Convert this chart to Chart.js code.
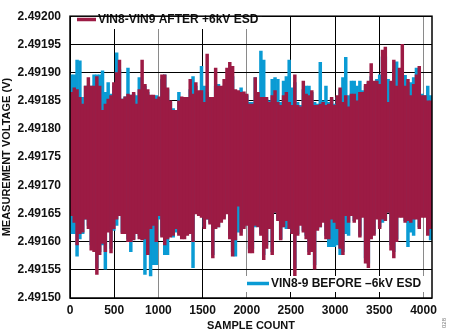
<!DOCTYPE html>
<html>
<head>
<meta charset="utf-8">
<title>Measurement voltage before and after ESD</title>
<script src="https://cdn.jsdelivr.net/npm/chart.js@4.4.1/dist/chart.umd.min.js"></script>
<style>
  html, body { margin: 0; padding: 0; background: #fff; }
</style>
</head>
<body>
<canvas id="noiseChart" width="450" height="336"></canvas>
<script>
// each drawn column is the min..max of 32 consecutive samples
const BUCKET = 32;

const afterHigh = [
  2.491865, 2.491873, 2.491870, 2.491856, 2.491844, 2.491876, 2.491891, 2.491876, 2.491876, 2.491893,
  2.491876, 2.491833, 2.491844, 2.491853, 2.491859, 2.491882, 2.491900, 2.491922, 2.491853, 2.491857,
  2.491862, 2.491860, 2.491865, 2.491844, 2.491870, 2.491922, 2.491879, 2.491870, 2.491860, 2.491860,
  2.491853, 2.491857, 2.491896, 2.491896, 2.491873, 2.491850, 2.491833, 2.491833, 2.491850, 2.491857,
  2.491856, 2.491856, 2.491888, 2.491862, 2.491882, 2.491868, 2.491868, 2.491847, 2.491933, 2.491856,
  2.491856, 2.491908, 2.491876, 2.491876, 2.491888, 2.491908, 2.491918, 2.491911, 2.491870, 2.491868,
  2.491865, 2.491866, 2.491862, 2.491844,
  2.491844, 2.491891, 2.491865, 2.491856, 2.491856, 2.491856, 2.491847, 2.491859, 2.491868, 2.491847,
  2.491842, 2.491859, 2.491865, 2.491847, 2.491842, 2.491896, 2.491842, 2.491839, 2.491885, 2.491862,
  2.491859, 2.491868, 2.491842, 2.491842, 2.491844, 2.491847, 2.491842, 2.491844, 2.491856, 2.491842,
  2.491859, 2.491873, 2.491847, 2.491859, 2.491839, 2.491862, 2.491862, 2.491850, 2.491865, 2.491865,
  2.491879, 2.491885, 2.491916, 2.491885, 2.491885, 2.491879, 2.491940, 2.491945, 2.491847, 2.491885,
  2.491922, 2.491876, 2.491908, 2.491950, 2.491876, 2.491888, 2.491859, 2.491879, 2.491896, 2.491911,
  2.491859, 2.491859, 2.491850, 2.491850
];
const afterLow = [
  2.491646, 2.491634, 2.491594, 2.491614, 2.491617, 2.491640, 2.491623, 2.491585, 2.491582, 2.491542,
  2.491577, 2.491597, 2.491582, 2.491617, 2.491580, 2.491623, 2.491640, 2.491646, 2.491614, 2.491614,
  2.491600, 2.491600, 2.491603, 2.491614, 2.491605, 2.491603, 2.491605, 2.491577, 2.491623, 2.491629,
  2.491600, 2.491646, 2.491608, 2.491594, 2.491605, 2.491608, 2.491611, 2.491623, 2.491611, 2.491605,
  2.491605, 2.491611, 2.491614, 2.491600, 2.491649, 2.491646, 2.491643, 2.491623, 2.491640, 2.491631,
  2.491571, 2.491623, 2.491626, 2.491634, 2.491640, 2.491649, 2.491605, 2.491574, 2.491603, 2.491663,
  2.491611, 2.491623, 2.491629, 2.491580,
  2.491580, 2.491629, 2.491626, 2.491611, 2.491568, 2.491588, 2.491623, 2.491577, 2.491652, 2.491637,
  2.491603, 2.491626, 2.491637, 2.491623, 2.491614, 2.491539, 2.491611, 2.491629, 2.491617, 2.491605,
  2.491577, 2.491582, 2.491551, 2.491620, 2.491626, 2.491634, 2.491605, 2.491605, 2.491640, 2.491634,
  2.491623, 2.491588, 2.491577, 2.491646, 2.491634, 2.491646, 2.491634, 2.491640, 2.491608, 2.491643,
  2.491562, 2.491554, 2.491605, 2.491611, 2.491640, 2.491623, 2.491640, 2.491637, 2.491652, 2.491585,
  2.491571, 2.491600, 2.491643, 2.491643, 2.491634, 2.491637, 2.491634, 2.491640, 2.491640, 2.491623,
  2.491643, 2.491643, 2.491611, 2.491623
];
const beforeHigh = [
  2.491896, 2.491896, 2.491922, 2.491921, 2.491856, 2.491876, 2.491876, 2.491876, 2.491896, 2.491896,
  2.491896, 2.491903, 2.491865, 2.491882, 2.491862, 2.491876, 2.491935, 2.491905, 2.491853, 2.491857,
  2.491908, 2.491860, 2.491862, 2.491859, 2.491891, 2.491876, 2.491876, 2.491865, 2.491859, 2.491859,
  2.491859, 2.491847, 2.491888, 2.491896, 2.491870, 2.491847, 2.491836, 2.491833, 2.491865, 2.491853,
  2.491847, 2.491850, 2.491870, 2.491893, 2.491876, 2.491865, 2.491911, 2.491876, 2.491865, 2.491853,
  2.491853, 2.491876, 2.491879, 2.491870, 2.491876, 2.491882, 2.491905, 2.491893, 2.491865, 2.491865,
  2.491873, 2.491862, 2.491859, 2.491847,
  2.491847, 2.491891, 2.491862, 2.491938, 2.491922, 2.491853, 2.491850, 2.491888, 2.491891, 2.491888,
  2.491847, 2.491885, 2.491893, 2.491922, 2.491873, 2.491882, 2.491847, 2.491842, 2.491870, 2.491876,
  2.491876, 2.491865, 2.491847, 2.491844, 2.491918, 2.491850, 2.491876, 2.491847, 2.491853, 2.491844,
  2.491856, 2.491870, 2.491891, 2.491927, 2.491859, 2.491885, 2.491885, 2.491876, 2.491885, 2.491868,
  2.491876, 2.491882, 2.491893, 2.491882, 2.491888, 2.491896, 2.491928, 2.491928, 2.491888, 2.491882,
  2.491905, 2.491919, 2.491888, 2.491895, 2.491895, 2.491882, 2.491882, 2.491891, 2.491908, 2.491905,
  2.491862, 2.491859, 2.491876, 2.491859
];
const beforeLow = [
  2.491614, 2.491614, 2.491574, 2.491605, 2.491614, 2.491640, 2.491629, 2.491594, 2.491588, 2.491554,
  2.491582, 2.491594, 2.491551, 2.491626, 2.491588, 2.491620, 2.491629, 2.491646, 2.491617, 2.491614,
  2.491605, 2.491582, 2.491605, 2.491617, 2.491611, 2.491605, 2.491542, 2.491582, 2.491539, 2.491559,
  2.491559, 2.491640, 2.491611, 2.491577, 2.491577, 2.491611, 2.491608, 2.491617, 2.491614, 2.491611,
  2.491611, 2.491614, 2.491617, 2.491554, 2.491654, 2.491649, 2.491646, 2.491626, 2.491640, 2.491634,
  2.491577, 2.491626, 2.491626, 2.491637, 2.491643, 2.491652, 2.491611, 2.491582, 2.491574, 2.491617,
  2.491617, 2.491626, 2.491631, 2.491588,
  2.491588, 2.491626, 2.491629, 2.491614, 2.491577, 2.491594, 2.491626, 2.491582, 2.491652, 2.491640,
  2.491605, 2.491626, 2.491623, 2.491634, 2.491617, 2.491554, 2.491614, 2.491631, 2.491620, 2.491611,
  2.491582, 2.491588, 2.491559, 2.491623, 2.491626, 2.491637, 2.491611, 2.491591, 2.491591, 2.491591,
  2.491594, 2.491577, 2.491582, 2.491614, 2.491611, 2.491649, 2.491637, 2.491643, 2.491611, 2.491646,
  2.491571, 2.491562, 2.491611, 2.491614, 2.491643, 2.491626, 2.491634, 2.491640, 2.491652, 2.491594,
  2.491582, 2.491605, 2.491646, 2.491646, 2.491637, 2.491591, 2.491617, 2.491611, 2.491643, 2.491626,
  2.491646, 2.491646, 2.491617, 2.491603
];

const xTicks = [0, 500, 1000, 1500, 2000, 2500, 3000, 3500, 4000];
const yTicks = [2.4915, 2.49155, 2.4916, 2.49165, 2.4917, 2.49175, 2.4918, 2.49185, 2.4919, 2.49195, 2.492];
const greyLines = [1000, 2000, 4000];

const afterLabel = "VIN8-VIN9 AFTER +6kV ESD";
const beforeLabel = "VIN8-9 BEFORE \u20136kV ESD";

const RED = "#9c1b44";
const BLUE = "#0a9bd4";
const FONT = "'Liberation Sans', Arial, sans-serif";

function columns(lo, hi) {
  return lo.map((v, i) => ({ x: i * BUCKET + BUCKET / 2, y: [v, hi[i]] }));
}

function drawKey(ctx, box, line, text, color) {
  ctx.fillStyle = "#fff";
  ctx.fillRect(box[0], box[1], box[2], box[3]);
  ctx.strokeStyle = color;
  ctx.lineWidth = 3.5;
  ctx.beginPath();
  ctx.moveTo(line[0], line[2]);
  ctx.lineTo(line[1], line[2]);
  ctx.stroke();
  ctx.fillStyle = "#111";
  ctx.font = "bold 12px " + FONT;
  ctx.textBaseline = "middle";
  ctx.textAlign = "left";
  ctx.fillText(text, line[1] + 2, line[2] + 0.5);
}

const overlay = {
  id: "overlay",
  afterDatasetsDraw(chart) {
    const { ctx, chartArea: a } = chart;
    ctx.save();
    drawKey(ctx, [72, 12, 190, 17], [77, 96, 19.5], afterLabel, RED);
    drawKey(ctx, [243, 276, 186, 16], [247, 269, 283.5], beforeLabel, BLUE);
    ctx.strokeStyle = "#000";
    ctx.lineWidth = 1.5;
    ctx.strokeRect(a.left, a.top, a.right - a.left, a.bottom - a.top);
    // figure tag at the lower right
    ctx.translate(444, 323);
    ctx.rotate(-Math.PI / 2);
    ctx.fillStyle = "#777";
    ctx.font = "6px " + FONT;
    ctx.textAlign = "center";
    ctx.textBaseline = "middle";
    ctx.fillText("028", 0, 0);
    ctx.restore();
  }
};

const ctx = document.getElementById("noiseChart").getContext("2d");
const noiseChart = new Chart(ctx, {
  type: "bar",
  data: {
    datasets: [
      {
        label: afterLabel,
        data: columns(afterLow, afterHigh),
        backgroundColor: RED,
        borderWidth: 0,
        order: 0
      },
      {
        label: beforeLabel,
        data: columns(beforeLow, beforeHigh),
        backgroundColor: BLUE,
        borderWidth: 0,
        order: 1
      }
    ]
  },
  options: {
    responsive: false,
    animation: false,
    events: [],
    grouped: false,
    barPercentage: 1,
    categoryPercentage: 1,
    layout: { padding: { top: 8, right: 18, left: 0, bottom: 0 } },
    plugins: { legend: { display: false }, tooltip: { enabled: false } },
    scales: {
      x: {
        type: "linear",
        min: 0,
        max: 4096,
        offset: false,
        afterFit(scale) { scale.height = 38; },
        afterBuildTicks(scale) { scale.ticks = xTicks.map(v => ({ value: v })); },
        grid: {
          offset: false,
          drawTicks: false,
          lineWidth: 1,
          color: c => (c.tick && greyLines.includes(c.tick.value) ? "#8a8a8a" : "#000")
        },
        border: { display: false },
        ticks: {
          autoSkip: false,
          maxRotation: 0,
          padding: 5,
          color: "#111",
          font: { family: FONT, size: 12, weight: "bold" },
          callback: v => String(v)
        },
        title: {
          display: true,
          text: "SAMPLE COUNT",
          color: "#111",
          padding: { top: 0, bottom: 3 },
          font: { family: FONT, size: 11, weight: "bold" }
        }
      },
      y: {
        min: 2.4915,
        max: 2.492,
        afterFit(scale) { scale.width = 70; },
        afterBuildTicks(scale) { scale.ticks = yTicks.map(v => ({ value: v })); },
        grid: { drawTicks: false, lineWidth: 1, color: "#000" },
        border: { display: false },
        ticks: {
          padding: 9,
          color: "#111",
          font: { family: FONT, size: 12, weight: "bold" },
          callback: v => Number(v).toFixed(5)
        },
        title: {
          display: true,
          text: "MEASUREMENT VOLTAGE (V)",
          color: "#111",
          padding: { top: 0, bottom: 0 },
          font: { family: FONT, size: 11, weight: "bold" }
        }
      }
    }
  },
  plugins: [overlay]
});
</script>
</body>
</html>
